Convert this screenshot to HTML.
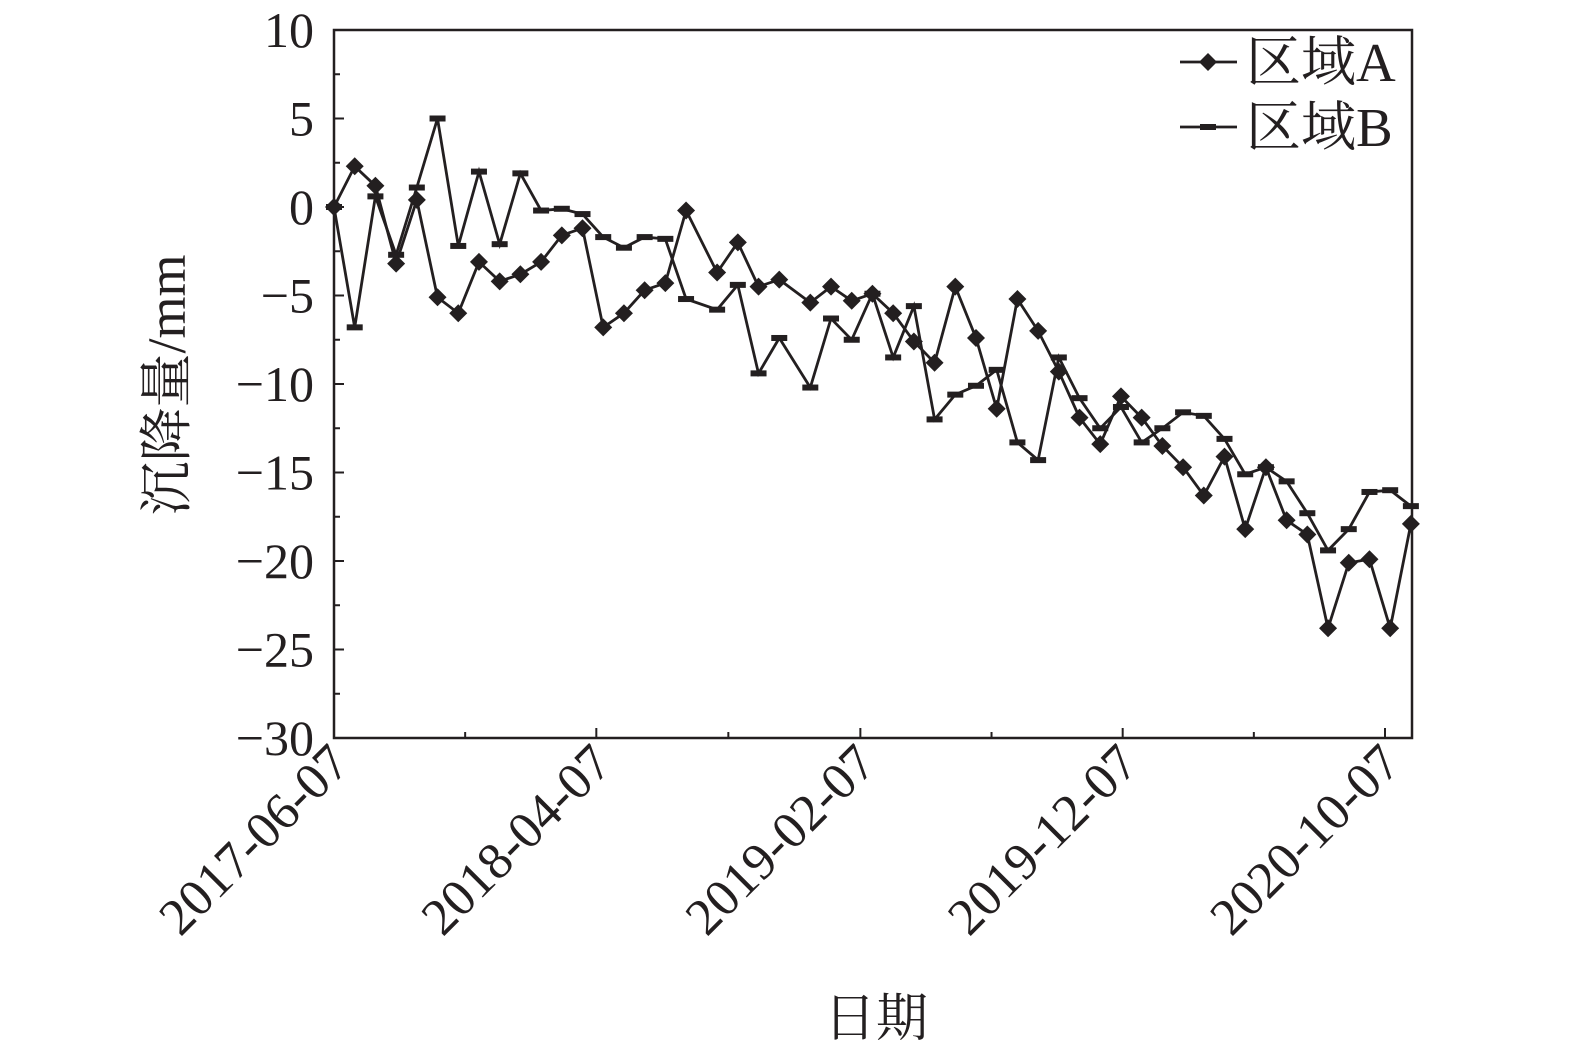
<!DOCTYPE html>
<html><head><meta charset="utf-8"><style>
html,body{margin:0;padding:0;background:#fff;overflow:hidden;width:1575px;height:1060px;}
svg{display:block;}
text{font-family:"Liberation Serif","Noto Serif CJK SC",serif;fill:#231f20;}
</style></head><body>
<svg id="chart" width="1575" height="1060" viewBox="0 0 1575 1060" xmlns="http://www.w3.org/2000/svg"></svg>
<script>
const days = [0,24,48,72,96,120,144,168,192,216,240,264,288,312,336,360,384,408,
444,468,492,516,552,576,600,624,648,672,696,720,744,768,792,816,
840,864,888,912,936,960,984,1008,1032,1056,1080,1104,1128,1152,1176,1200,1224,1248];
const seriesA = [0,2.3,1.2,-3.2,0.4,-5.1,-6.0,-3.1,-4.2,-3.8,-3.1,-1.6,-1.2,-6.8,-6.0,-4.7,-4.3,-0.2,
-3.7,-2.0,-4.5,-4.1,-5.4,-4.5,-5.3,-4.9,-6.0,-7.6,-8.8,-4.5,-7.4,-11.4,-5.2,-7.0,
-9.3,-11.9,-13.4,-10.7,-11.9,-13.5,-14.7,-16.3,-14.1,-18.2,-14.7,-17.7,-18.5,-23.8,-20.1,-19.9,-23.8,-17.9];
const seriesB = [0,-6.8,0.6,-2.7,1.1,5.0,-2.2,2.0,-2.1,1.9,-0.2,-0.1,-0.4,-1.7,-2.3,-1.7,-1.8,-5.2,
-5.8,-4.4,-9.4,-7.4,-10.2,-6.3,-7.5,-4.9,-8.5,-5.6,-12.0,-10.6,-10.1,-9.2,-13.3,-14.3,
-8.5,-10.8,-12.5,-11.3,-13.3,-12.5,-11.6,-11.8,-13.1,-15.1,-14.7,-15.5,-17.3,-19.4,-18.2,-16.1,-16.0,-16.9];
const yTicks = [10,5,0,-5,-10,-15,-20,-25,-30];
const xTickDays = [0,304,610,914,1218];
const xTickLabels = ["2017-06-07","2018-04-07","2019-02-07","2019-12-07","2020-10-07"];
const xMinorDays = [152,457,762,1066];

const NS="http://www.w3.org/2000/svg";
const svg=document.getElementById('chart');
const L=334,R=1412,T=30,B=738;
const xs=d=>L+d*(1051/1218);
const ys=v=>T+(10-v)*(B-T)/40;
function mk(tag,attrs,parent){const e=document.createElementNS(NS,tag);for(const k in attrs)e.setAttribute(k,attrs[k]);(parent||svg).appendChild(e);return e;}

const frame=mk('rect',{x:L,y:T,width:R-L,height:B-T,fill:'none',stroke:'#231f20','stroke-width':2.5});



yTicks.forEach((v,i)=>{
  const y=ys(v);
  const t=mk('line',{x1:L,x2:L+10,y1:y,y2:y,stroke:'#231f20','stroke-width':2});
  
  
  if(i<yTicks.length-1){const ym=ys(v-2.5);
    const m=mk('line',{x1:L,x2:L+6,y1:ym,y2:ym,stroke:'#231f20','stroke-width':2});
    
    }
  const lb=mk('text',{x:314,y:y+17,'text-anchor':'end','font-size':50});
  lb.textContent=(v<0?'\u2212'+(-v):String(v));
  
  
});
xTickDays.forEach((d,i)=>{
  const x=xs(d);
  const t=mk('line',{x1:x,x2:x,y1:B,y2:B-10,stroke:'#231f20','stroke-width':2});
  
  
  const lb=mk('text',{x:x+18,y:B+28,'text-anchor':'end','font-size':52,transform:`rotate(-45 ${x+18} ${B+28})`});
  lb.textContent=xTickLabels[i];
  
  
});
xMinorDays.forEach(d=>{
  const x=xs(d);
  const t=mk('line',{x1:x,x2:x,y1:B,y2:B-6,stroke:'#231f20','stroke-width':2});
  
  
});

function series(vals,name,marker){
  const g=mk('g',{});
  
  
  const pts=vals.map((v,i)=>xs(days[i]).toFixed(1)+','+ys(v).toFixed(1)).join(' ');
  const pl=mk('polyline',{points:pts,fill:'none',stroke:'#231f20','stroke-width':2.8,'stroke-linejoin':'miter'},g);
  
  
  vals.forEach((v,i)=>{
    const x=xs(days[i]),y=ys(v);
    let m;
    if(marker==='diamond') m=mk('polygon',{points:`${x},${y-9} ${x+9},${y} ${x},${y+9} ${x-9},${y}`,fill:'#231f20'},g);
    else m=mk('rect',{x:x-8,y:y-3,width:16,height:6,fill:'#231f20'},g);
    
    
  });
}
series(seriesB,'series-b','dash');
series(seriesA,'series-a','diamond');

const lg=mk('g',{});


const la=mk('line',{x1:1180,x2:1237,y1:62,y2:62,stroke:'#231f20','stroke-width':2.8},lg);


const ld=mk('polygon',{points:'1208,53 1217,62 1208,71 1199,62',fill:'#231f20'},lg);


const ta=mk('text',{x:1246,y:81,'font-size':55},lg);
ta.textContent='区域A';


const lb2=mk('line',{x1:1180,x2:1237,y1:127,y2:127,stroke:'#231f20','stroke-width':2.8},lg);


const lbm=mk('rect',{x:1200,y:124,width:16,height:6,fill:'#231f20'},lg);


const tb=mk('text',{x:1246,y:146,'font-size':55},lg);
tb.textContent='区域B';



const xt=mk('text',{x:876,y:1036,'text-anchor':'middle','font-size':52});
xt.textContent='日期';


const yt=mk('text',{x:185,y:385,'text-anchor':'middle','font-size':54,transform:'rotate(-90 185 385)'});
yt.textContent='沉降量/mm';


</script>
</body></html>
